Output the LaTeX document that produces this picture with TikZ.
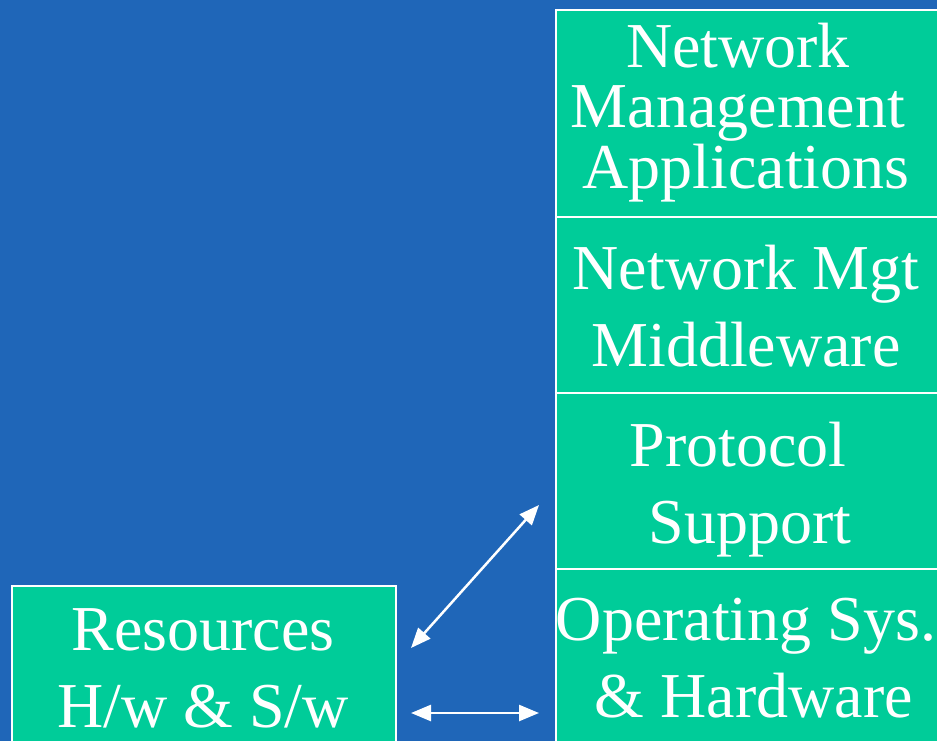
\documentclass[tikz,border=0pt]{standalone}
\usepackage{fontspec}
\setmainfont{Liberation Serif}
\usetikzlibrary{arrows.meta}
\definecolor{bgblue}{RGB}{31,102,184}
\definecolor{layergreen}{RGB}{0,204,153}
% a word space kept at a line end or start
\newcommand{\padsp}{\kern0.25em}
\tikzset{
  layer/.style={draw=white, line width=2pt, fill=layergreen, rectangle, inner sep=0pt},
  caption/.style={text=white, align=center, inner sep=0pt,
    font=\fontsize{64}{77}\selectfont},
  link/.style={draw=white, line width=2.5pt,
    {Triangle[length=20pt,width=16pt]}-{Triangle[length=20pt,width=16pt]}}
}
\begin{document}
\begin{tikzpicture}[x=1pt,y=-1pt]
  \fill[bgblue] (0,0) rectangle (937,741);
  \useasboundingbox (0,0) rectangle (937,741);
  \clip (0,0) rectangle (937,741);

  % management stack
  \node[layer, minimum width=385pt, minimum height=207pt, anchor=north west] (apps) at (555,9) {};
  \node[layer, minimum width=385pt, minimum height=176pt, anchor=north west] (mid) at (555,216) {};
  \node[layer, minimum width=385pt, minimum height=176pt, anchor=north west] (proto) at (555,392) {};
  \node[layer, minimum width=385pt, minimum height=185pt, anchor=north west] (os) at (555,568) {};

  % managed resources
  \node[layer, minimum width=384pt, minimum height=170pt, anchor=north west] (res) at (11,585) {};

  % labels (anchored on the baseline of their last line)
  \node[caption, font=\fontsize{64}{60.5}\selectfont, anchor=base] (appsT) at (746,188)
    {Network\padsp\\Management\padsp\\Applications};
  \node[caption, anchor=base] (midT) at (746,366) {Network Mgt\\Middleware};
  \node[caption, anchor=base] (protoT) at (746,543) {Protocol\padsp\\\kern0.12em Support};
  \node[caption, anchor=base] (osT) at (746,717) {Operating Sys.\\\padsp\& Hardware};
  \node[caption, anchor=base] (resT) at (203,727) {Resources\\H/w \& S/w};

  % connectors
  \coordinate (d1) at (411,648);
  \coordinate (d2) at (539,505);
  \coordinate (h1) at (411,713);
  \coordinate (h2) at (539,713);
  \draw[link] (d1) -- (d2);
  \draw[link] (h1) -- (h2);
\end{tikzpicture}
\end{document}
